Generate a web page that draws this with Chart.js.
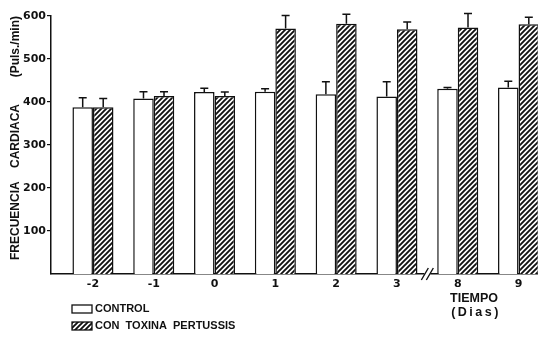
<!DOCTYPE html>
<html>
<head>
<meta charset="utf-8">
<script src="https://cdn.jsdelivr.net/npm/chart.js@4"></script>
<style>
  body { margin: 0; background: #fff; }
</style>
</head>
<body>
<canvas id="chart-1" width="538" height="340"></canvas>
<script>
// days of treatment, evenly spaced (axis is broken between 3 and 8)
var dayLabels = ['-2', '-1', '0', '1', '2', '3', '8', '9'];
var controlValues = [388, 408, 423, 424, 418, 413, 431, 434];
var controlErrors = [22, 16, 9, 7, 29, 34, 3, 14];
var toxinValues = [388, 414, 414, 571, 582, 569, 573, 581];
var toxinErrors = [20, 10, 9, 30, 22, 17, 33, 16];
var yTicks = [100, 200, 300, 400, 500, 600];

var INK = '#111';
var numFont = { family: 'DejaVu Sans', size: 11, weight: 'bold' };
var textFont = '"Liberation Sans", Arial, sans-serif';

// diagonal hatch ////
function hatch() {
    var c = document.createElement('canvas');
    c.width = 5; c.height = 5;
    var g = c.getContext('2d');
    g.fillStyle = '#fff';
    g.fillRect(0, 0, 5, 5);
    g.strokeStyle = INK;
    g.lineWidth = 1.9;
    g.beginPath();
    g.moveTo(-1, 6); g.lineTo(6, -1);
    g.moveTo(-1, 1); g.lineTo(1, -1);
    g.moveTo(4, 6); g.lineTo(6, 4);
    g.stroke();
    return g.createPattern(c, 'repeat');
}
var hatchFill = hatch();

function points(values) {
    return values.map(function (v, i) { return { x: i, y: v }; });
}

// one-sided error bars (mean + SE)
var errorBars = {
    id: 'errorBars',
    afterDatasetsDraw: function (chart) {
        var ctx = chart.ctx, y = chart.scales.y;
        ctx.save();
        ctx.strokeStyle = INK;
        ctx.lineWidth = 1.5;
        chart.data.datasets.forEach(function (ds, di) {
            chart.getDatasetMeta(di).data.forEach(function (bar, i) {
                var top = y.getPixelForValue(ds.data[i].y + ds.errors[i]);
                ctx.beginPath();
                ctx.moveTo(bar.x, bar.y);
                ctx.lineTo(bar.x, top);
                ctx.moveTo(bar.x - 4, top);
                ctx.lineTo(bar.x + 4, top);
                ctx.stroke();
            });
        });
        ctx.restore();
    }
};

// axis break, legend and x title
var extras = {
    id: 'extras',
    afterDraw: function (chart) {
        var ctx = chart.ctx, x = chart.scales.x;
        var bx = x.getPixelForValue(5.5), by = chart.chartArea.bottom;
        ctx.save();
        ctx.fillStyle = '#fff';
        ctx.fillRect(bx - 3, by - 2, 6, 4);
        ctx.strokeStyle = INK;
        ctx.lineWidth = 1.4;
        ctx.beginPath();
        ctx.moveTo(bx - 6, by + 6); ctx.lineTo(bx + 1, by - 6);
        ctx.moveTo(bx - 1, by + 6); ctx.lineTo(bx + 6, by - 6);
        ctx.stroke();

        ctx.font = 'bold 11px ' + textFont;
        ctx.textBaseline = 'middle';
        ctx.fillStyle = INK;
        var rows = [309, 326];
        chart.data.datasets.forEach(function (ds, i) {
            ctx.fillStyle = ds.backgroundColor;
            ctx.fillRect(72, rows[i] - 4, 20, 8);
            ctx.lineWidth = 1.3;
            ctx.strokeRect(72, rows[i] - 4, 20, 8);
            ctx.fillStyle = INK;
            ctx.textAlign = 'left';
            ctx.fillText(ds.label, 95, rows[i]);
        });

        ctx.font = 'bold 12.5px ' + textFont;
        ctx.textAlign = 'center';
        ctx.fillText('TIEMPO', 474, 299);
        ctx.letterSpacing = '2.5px';
        ctx.fillText('(Dias)', 476, 313);
        ctx.restore();
    }
};

var ctx_1 = document.getElementById('chart-1');
var myChart = new Chart(ctx_1, {
    type: 'bar',
    data: {
        datasets: [{
            label: 'CONTROL',
            data: points(controlValues),
            errors: controlErrors,
            backgroundColor: '#fff',
            borderColor: INK,
            borderWidth: 1.5
        }, {
            label: 'CON  TOXINA  PERTUSSIS',
            data: points(toxinValues),
            errors: toxinErrors,
            backgroundColor: hatchFill,
            borderColor: INK,
            borderWidth: 1.5
        }]
    },
    options: {
        responsive: false,
        animation: false,
        devicePixelRatio: 1,
        categoryPercentage: 0.675,
        barPercentage: 1,
        layout: {
            padding: { top: 16, right: 0, left: 0, bottom: 0 }
        },
        plugins: {
            legend: { display: false },
            tooltip: { enabled: false }
        },
        scales: {
            x: {
                type: 'linear',
                min: -0.69,
                max: 7.32,
                offset: false,
                grid: { display: false, drawTicks: false, offset: false },
                border: { color: INK, width: 1.5 },
                afterBuildTicks: function (scale) {
                    scale.ticks = dayLabels.map(function (_, i) { return { value: i }; });
                },
                afterFit: function (scale) { scale.height = 66; },
                ticks: {
                    color: INK,
                    font: numFont,
                    padding: 4,
                    maxRotation: 0,
                    callback: function (v) { return dayLabels[v]; }
                }
            },
            y: {
                min: 0,
                max: 600,
                afterBuildTicks: function (scale) {
                    scale.ticks = yTicks.map(function (v) { return { value: v }; });
                },
                afterFit: function (scale) { scale.width = 51; },
                grid: { display: true, drawOnChartArea: false, drawTicks: true, tickLength: 4, color: INK, lineWidth: 1.2 },
                border: { color: INK, width: 1.5 },
                ticks: {
                    color: INK,
                    font: numFont,
                    padding: 1
                },
                title: {
                    display: true,
                    text: 'FRECUENCIA    CARDIACA        (Puls./min)',
                    align: 'end',
                    color: INK,
                    font: { family: textFont, size: 12, weight: 'bold' },
                    padding: { top: 8, bottom: 0 }
                }
            }
        }
    },
    plugins: [errorBars, extras]
});
</script>
</body>
</html>
